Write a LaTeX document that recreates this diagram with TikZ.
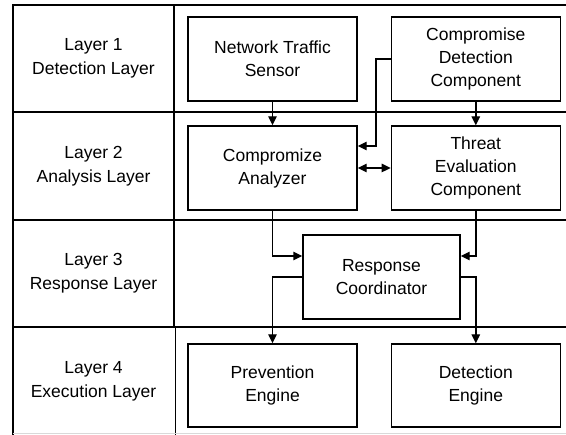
\documentclass[tikz,border=0pt]{standalone}
\usepackage{fontspec}
\setmainfont{Liberation Sans}
\usetikzlibrary{arrows.meta}
\begin{document}
\begin{tikzpicture}[x=1pt,y=-1pt,
  grid/.style={line width=1.4pt,black},
  lbl/.style={align=center,font=\fontsize{17.5}{24}\selectfont,inner sep=0pt},
  blk/.style={draw,line width=1.4pt,minimum width=169pt,minimum height=84pt,
    align=center,font=\fontsize{17.5}{23}\selectfont,inner sep=0pt},
  arr/.style={line width=1.4pt,-{Triangle[length=9pt,width=8.5pt]}},
  darr/.style={line width=1.4pt,{Triangle[length=9pt,width=8.5pt]}-{Triangle[length=9pt,width=8.5pt]}}]
\useasboundingbox (0,0) rectangle (566,435);
\fill[white] (0,0) rectangle (566,435);

% layer table
\draw[grid] (566,5) -- (13,5) -- (13,435);
\draw[grid] (174,5) -- (174,327);
\draw[grid] (175.5,327) -- (175.5,435);
\foreach \yy in {112,220,327} \draw[grid] (13,\yy) -- (566,\yy);
\draw[line width=1pt,black!15] (13,433.5) -- (566,433.5);

% layer labels
\node[lbl] (l1) at (93.5,58.5) {Layer 1\\Detection Layer};
\node[lbl] (l2) at (93.5,166) {Layer 2\\Analysis Layer};
\node[lbl] (l3) at (93.5,273.5) {Layer 3\\Response Layer};
\node[lbl] (l4) at (93.5,381) {Layer 4\\Execution Layer};

% components
\node[blk] (nts) at (272.5,59) {Network Traffic\\Sensor};
\node[blk] (cdc) at (475.8,59) {Compromise\\Detection\\Component};
\node[blk] (ca)  at (272.5,168) {Compromize\\Analyzer};
\node[blk] (tec) at (475.8,168) {Threat\\Evaluation\\Component};
\node[blk,minimum width=157pt] (rc) at (381.5,277) {Response\\Coordinator};
\node[blk,minimum height=83pt] (pe) at (272.5,385.5) {Prevention\\Engine};
\node[blk,minimum height=83pt] (de) at (475.8,385.5) {Detection\\Engine};

% connectors
\coordinate (j1) at (376,146);
\draw[arr] (nts.south) -- (ca.north);
\draw[arr] (cdc.south) -- (tec.north);
\draw[arr] (cdc.west) -| (j1) -- (ca.east |- j1);
\draw[darr] (ca.east) -- (tec.west);
\draw[arr] (ca.south) |- ([yshift=21pt]rc.west);
\draw[arr] (tec.south) |- ([yshift=21pt]rc.east);
\draw[arr] (rc.west) -| (pe.north);
\draw[arr] (rc.east) -| (de.north);
\end{tikzpicture}
\end{document}
